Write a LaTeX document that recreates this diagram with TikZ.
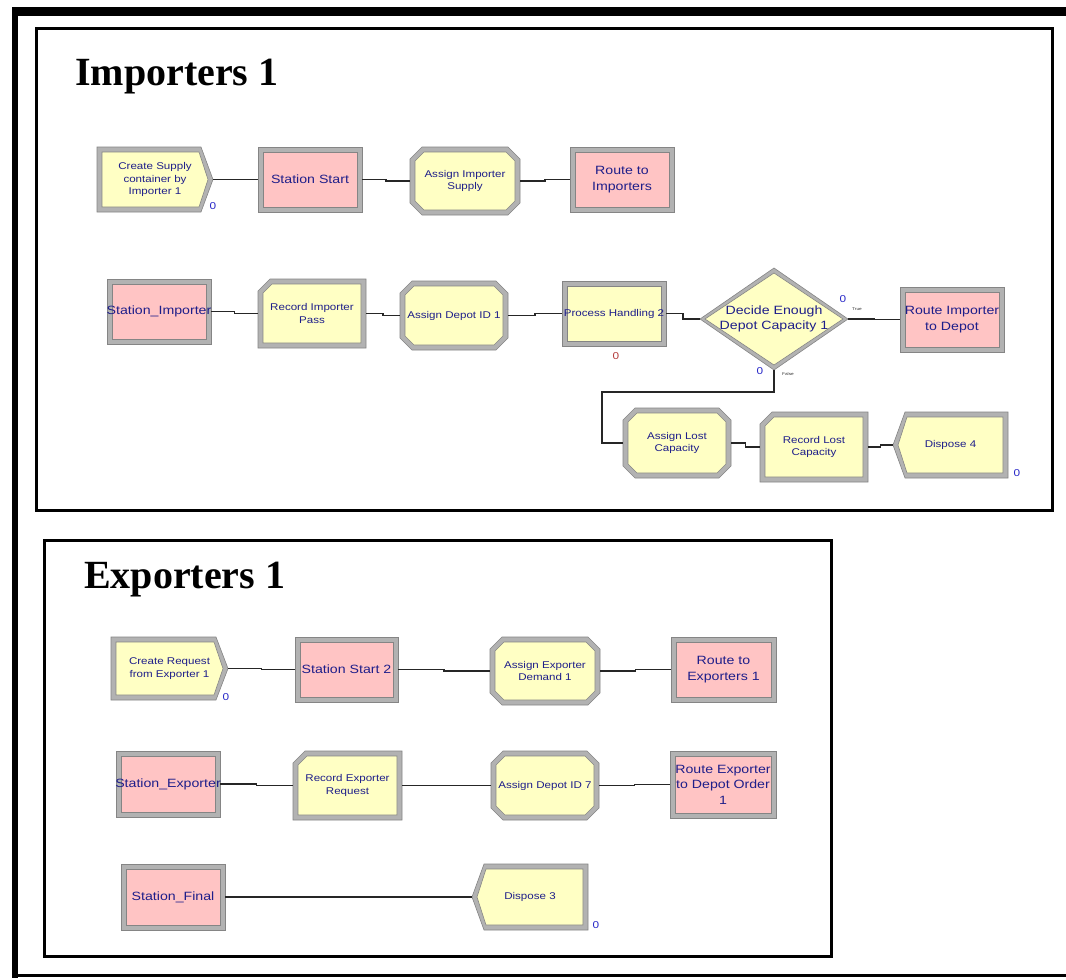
\documentclass[tikz,border=0pt]{standalone}
\usepackage{fontspec}
\setmainfont{Liberation Serif}
\newfontfamily\arenafont[FakeStretch=1.18]{Liberation Sans}
\usetikzlibrary{calc}

\definecolor{modyellow}{HTML}{FFFFC4}
\definecolor{modpink}{HTML}{FFC4C4}
\definecolor{bevelgray}{HTML}{B2B2B2}
\definecolor{bevelline}{HTML}{858585}
\definecolor{labelblue}{HTML}{1E1E8A}
\definecolor{countblue}{HTML}{2828C8}
\definecolor{countred}{HTML}{B43C3C}

\tikzset{
  modbox/.style={inner sep=0pt, outer sep=0pt},
  biglbl/.style={font=\arenafont\fontsize{12}{15.5}\selectfont, text=labelblue, align=center, inner sep=0pt},
  smalllbl/.style={font=\arenafont\fontsize{9.8}{12.5}\selectfont, text=labelblue, align=center, inner sep=0pt},
  count/.style={font=\arenafont\fontsize{10}{10}\selectfont, text=countblue, inner sep=0pt},
  countr/.style={count, text=countred},
  branch/.style={font=\arenafont\fontsize{4}{4}\selectfont, text=black!80, inner sep=0pt},
  conn/.style={line width=1.4pt, draw=black!85},
  title/.style={font=\fontsize{40}{48}\selectfont\bfseries, inner sep=0pt, anchor=base west},
  frame/.style={line width=3pt, draw=black},
  outerbevel/.style={fill=bevelgray, draw=bevelline, line width=0.6pt},
}

% module outlines: x0, y0, x1, y1, style
\newcommand\rectshape[5]{\path[#5] ({#1},{#2}) rectangle ({#3},{#4});}
\newcommand\octshape[5]{\path[#5] ({#1+\cutlen},{#2}) -- ({#3-\cutlen},{#2}) -- ({#3},{#2+\cutlen})
  -- ({#3},{#4-\cutlen}) -- ({#3-\cutlen},{#4}) -- ({#1+\cutlen},{#4}) -- ({#1},{#4-\cutlen})
  -- ({#1},{#2+\cutlen}) -- cycle;}
\newcommand\chevronR[5]{\path[#5] ({#1},{#2}) -- ({#3-\cutlen},{#2}) -- ({#3},{(#2+#4)/2})
  -- ({#3-\cutlen},{#4}) -- ({#1},{#4}) -- cycle;}
\newcommand\chevronL[5]{\path[#5] ({#1+\cutlen},{#2}) -- ({#3},{#2}) -- ({#3},{#4})
  -- ({#1+\cutlen},{#4}) -- ({#1},{(#2+#4)/2}) -- cycle;}
\newcommand\recshape[5]{\path[#5] ({#1+\cutlen},{#2}) -- ({#3},{#2}) -- ({#3},{#4})
  -- ({#1},{#4}) -- ({#1},{#2+\cutlen}) -- cycle;}
\newcommand\diashape[5]{\path[#5] ({(#1+#3)/2},{#2}) -- ({#3},{(#2+#4)/2}) -- ({(#1+#3)/2},{#4})
  -- ({#1},{(#2+#4)/2}) -- cycle;}

% a bevelled module with its label
% #1 name, #2 outline, #3-#6 box, #7 fill, #8 label style, #9 label
\newcommand\module[9]{%
  \def\cutlen{12}%
  #2{#3}{#4}{#5}{#6}{outerbevel}%
  \def\cutlen{9}%
  #2{#3+5}{#4+5}{#5-5}{#6-5}{fill=#7, draw=bevelline, line width=0.6pt}%
  \pgfmathsetmacro\modw{#5-#3}%
  \pgfmathsetmacro\modh{#6-#4}%
  \node[modbox, minimum width=\modw pt, minimum height=\modh pt] (#1) at ({(#3+#5)/2},{(#4+#6)/2}) {};
  \node[#8] (#1-t) at (#1.center) {#9};
}

% connector with a single jog halfway
\newcommand\link[2]{\draw[conn] (#1.east) -| ($(#1.east)!0.5!(#2.west)$) |- (#2.west);}

\begin{document}
\begin{tikzpicture}[x=1pt, y=-1pt]
\useasboundingbox (0,0) rectangle (1066,980);
\fill[white] (0,0) rectangle (1066,980);

% page border
\fill[black] (12,7) rectangle (1066,16);
\fill[black] (12,7) rectangle (18,978);
\draw[line width=3pt] (12,975) -- (1066,975);

% submodel frames
\draw[frame] (36,28) rectangle (1052,510);
\draw[frame] (44,540) rectangle (831,956);
\node[title] (imptitle) at (75,85) {Importers 1};
\node[title] (exptitle) at (84,588) {Exporters 1};

% ---------------- Importers 1 ----------------
\module{createA}{\chevronR}{97}{147}{213}{212}{modyellow}{smalllbl}{Create Supply\\container by\\Importer 1}
\module{stationA}{\rectshape}{258}{147}{362}{212}{modpink}{biglbl}{Station Start}
\module{assignSup}{\octshape}{410}{147}{520}{215}{modyellow}{smalllbl}{Assign Importer\\Supply}
\module{routeImp}{\rectshape}{570}{147}{674}{212}{modpink}{biglbl}{Route to\\Importers}

\module{stImp}{\rectshape}{107}{279}{211}{344}{modpink}{biglbl}{Station\_Importer}
\module{recPass}{\recshape}{258}{279}{366}{348}{modyellow}{smalllbl}{Record Importer\\Pass}
\module{depotA}{\octshape}{400}{281}{508}{350}{modyellow}{smalllbl}{Assign Depot ID 1}
\module{procH}{\rectshape}{562}{281}{666}{346}{modyellow}{smalllbl}{Process Handling 2}
\module{decide}{\diashape}{700}{268}{848}{370}{modyellow}{biglbl}{Decide Enough\\Depot Capacity 1}
\module{routeDep}{\rectshape}{900}{287}{1004}{352}{modpink}{biglbl}{Route Importer\\to Depot}

\module{lostA}{\octshape}{623}{408}{731}{478}{modyellow}{smalllbl}{Assign Lost\\Capacity}
\module{lostR}{\recshape}{760}{412}{868}{482}{modyellow}{smalllbl}{Record Lost\\Capacity}
\module{disp4}{\chevronL}{893}{412}{1008}{478}{modyellow}{smalllbl}{Dispose 4}

\node[count] (cntA) at (213,206) {0};
\node[countr] (cntP) at (616,356) {0};
\node[count] (cntT) at (843,299) {0};
\node[branch] (lblT) at (857,309) {True};
\node[count] (cntF) at (760,371) {0};
\node[branch] (lblF) at (788,374) {False};
\node[count] (cnt4) at (1017,473) {0};

\link{createA}{stationA}
\link{stationA}{assignSup}
\link{assignSup}{routeImp}
\link{stImp}{recPass}
\link{recPass}{depotA}
\link{depotA}{procH}
\link{procH}{decide}
\link{decide}{routeDep}
\coordinate (falsebend) at (602,392);
\draw[conn] (decide.south) |- (falsebend) |- (lostA.west);
\link{lostA}{lostR}
\link{lostR}{disp4}

% ---------------- Exporters 1 ----------------
\module{createB}{\chevronR}{111}{637}{228}{700}{modyellow}{smalllbl}{Create Request\\from Exporter 1}
\module{stationB}{\rectshape}{295}{637}{398}{702}{modpink}{biglbl}{Station Start 2}
\module{assignDem}{\octshape}{490}{637}{600}{705}{modyellow}{smalllbl}{Assign Exporter\\Demand 1}
\module{routeExp}{\rectshape}{671}{637}{776}{702}{modpink}{biglbl}{Route to\\Exporters 1}

\module{stExp}{\rectshape}{116}{751}{220}{817}{modpink}{biglbl}{Station\_Exporter}
\module{recReq}{\recshape}{293}{751}{402}{820}{modyellow}{smalllbl}{Record Exporter\\Request}
\module{depotB}{\octshape}{491}{751}{599}{820}{modyellow}{smalllbl}{Assign Depot ID 7}
\module{routeOrd}{\rectshape}{670}{751}{776}{818}{modpink}{biglbl}{Route Exporter\\to Depot Order\\1}

\module{stFinal}{\rectshape}{121}{864}{225}{930}{modpink}{biglbl}{Station\_Final}
\module{disp3}{\chevronL}{472}{864}{588}{930}{modyellow}{smalllbl}{Dispose 3}

\node[count] (cntB) at (226,697) {0};
\node[count] (cnt3) at (596,925) {0};

\link{createB}{stationB}
\link{stationB}{assignDem}
\link{assignDem}{routeExp}
\link{stExp}{recReq}
\link{recReq}{depotB}
\link{depotB}{routeOrd}
\link{stFinal}{disp3}
\end{tikzpicture}
\end{document}
